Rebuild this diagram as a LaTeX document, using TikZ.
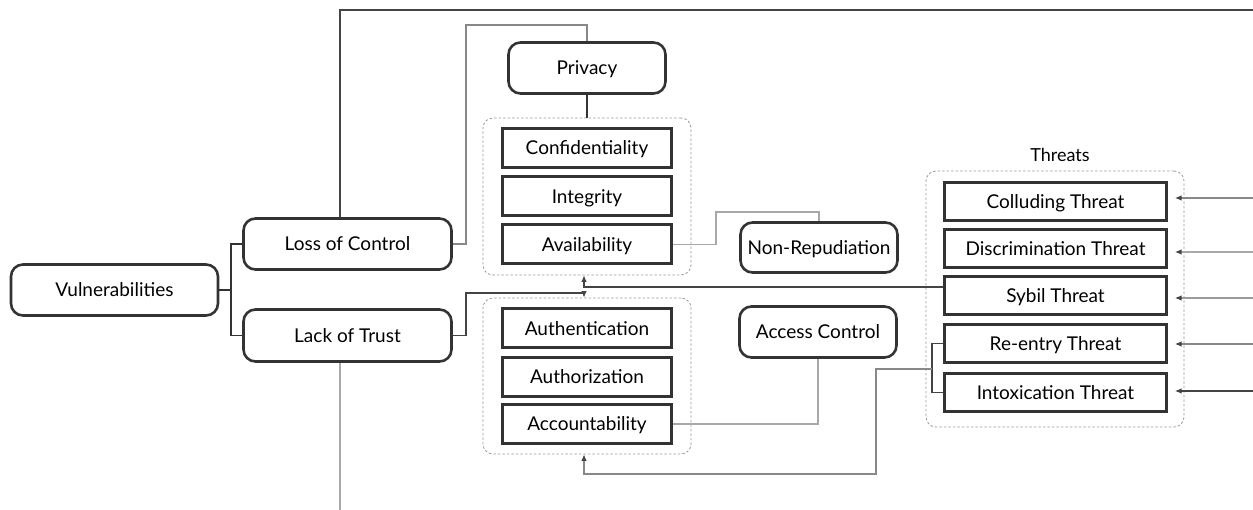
\documentclass[tikz,border=0pt]{standalone}
\usepackage{fontspec}
\setmainfont{Lato}
\usetikzlibrary{arrows.meta}
\definecolor{edge}{HTML}{333333}
\definecolor{wire}{HTML}{444444}
\definecolor{lightwire}{HTML}{A8A8A8}
\definecolor{midwire}{HTML}{888888}
\definecolor{groupline}{HTML}{9A9A9A}
\tikzset{
  label text/.style={font=\fontsize{19}{21}\selectfont, text height=13.6pt, text depth=0pt},
  roundbox/.style={label text, draw=edge, line width=2.6pt, rounded corners=12pt, fill=white,
    inner sep=0pt},
  itembox/.style={label text, draw=edge, line width=3pt, fill=white, minimum width=169pt,
    minimum height=39pt, inner sep=0pt},
  threatbox/.style={itembox, minimum width=222pt, minimum height=38pt},
  groupbox/.style={draw=groupline, line width=0.8pt, dash pattern=on 2.5pt off 2pt,
    rounded corners=10pt, inner sep=0pt},
  wirestyle/.style={line width=1.1pt},
  tip/.style={-{Latex[length=6.5pt,width=5.5pt,color=wire]}},
}
\begin{document}
\begin{tikzpicture}[x=1pt,y=-1pt]
\useasboundingbox (0,0) rectangle (1253,510);

% dashed groups
\node[groupbox, minimum width=208pt, minimum height=157pt] (g1) at (587,196.5) {};
\node[groupbox, minimum width=208pt, minimum height=156pt] (g2) at (587,376) {};
\node[groupbox, minimum width=258pt, minimum height=256pt] (g3) at (1055,299) {};
\node[font=\fontsize{18}{20}\selectfont, text height=13pt, text depth=0pt] (threats) at (1060,155) {Threats};

% rounded concept boxes
\node[roundbox, minimum width=207pt, minimum height=51pt] (vul) at (114.5,290) {Vulnerabilities};
\node[roundbox, minimum width=208pt, minimum height=51pt] (loc) at (347.5,244) {Loss of Control};
\node[roundbox, minimum width=208pt, minimum height=52pt] (lot) at (347.5,335.5) {Lack of Trust};
\node[roundbox, minimum width=157pt, minimum height=51pt] (priv) at (587,68) {Privacy};
\node[roundbox, minimum width=157pt, minimum height=50pt] (nonrep) at (819,247.5) {Non-Repudiation};
\node[roundbox, minimum width=157pt, minimum height=51pt] (acc) at (818,332) {Access Control};

% security properties
\node[itembox] (conf) at (587,148) {Confidentiality};
\node[itembox] (integ) at (587,196.5) {Integrity};
\node[itembox] (avail) at (587,244.5) {Availability};
\node[itembox] (authn) at (587,328.5) {Authentication};
\node[itembox] (authz) at (587,377) {Authorization};
\node[itembox] (accnt) at (587,424) {Accountability};

% threats
\node[threatbox] (coll) at (1055.5,201.5) {Colluding Threat};
\node[threatbox] (disc) at (1055.5,249) {Discrimination Threat};
\node[threatbox] (sybil) at (1055.5,295.5) {Sybil Threat};
\node[threatbox] (reentry) at (1055.5,343.5) {Re-entry Threat};
\node[threatbox] (intox) at (1055.5,392.5) {Intoxication Threat};

% free ends at the picture border
\coordinate (topend) at (1253,10);
\coordinate (bottomend) at (340,510);
\coordinate (r1) at (1253,198);
\coordinate (r2) at (1253,252);
\coordinate (r3) at (1253,298);
\coordinate (r4) at (1253,344);
\coordinate (r5) at (1253,391);

% tree from Vulnerabilities
\draw[edge, line width=1.6pt] (vul.east) -- (231,290) |- (loc.west);
\draw[edge, line width=1.6pt] (231,290) |- (lot.west);

% long lines leaving the picture
\draw[wire, wirestyle] (loc.north -| 340,0) -- (340,10) -- (topend);
\draw[lightwire, wirestyle] (lot.south -| 340,0) -- (bottomend);

% Loss of Control to Privacy
\draw[midwire, wirestyle] (loc.east) -- (466,244) -- (466,25) -| (priv.north);
\draw[edge, wirestyle] (priv.south) -- (g1.north);

% Availability to Non-Repudiation
\draw[lightwire, line width=1.4pt] (avail.east) -- (716,244.5) -- (716,212) -| (nonrep.north);

% Sybil Threat back to the first group
\draw[wire, wirestyle, tip] ([yshift=8.5pt]sybil.west) -- (584,287) -- (g1.south -| 584,0);

% Lack of Trust to the second group
\draw[wire, wirestyle, tip] (lot.east) -- (466,335.5) -- (466,293) -- (584,293) -- (g2.north -| 584,0);

% Accountability to Access Control
\draw[lightwire, line width=1.4pt] (accnt.east) -| (acc.south);

% Re-entry and Intoxication back to the second group
\draw[wire, wirestyle] (reentry.west) -- (932,343.5) -- (932,392.5) -- (intox.west);
\draw[midwire, wirestyle, tip] (932,369) -- (876,369) -- (876,474) -- (584,474) -- (g2.south -| 584,0);

% incoming arrows on the threats
\draw[midwire, wirestyle, tip] (r1) -- ([xshift=7pt]coll.east |- r1);
\draw[lightwire, wirestyle, tip] (r2) -- ([xshift=7pt]disc.east |- r2);
\draw[groupline, wirestyle, tip] (r3) -- ([xshift=7pt]sybil.east |- r3);
\draw[midwire, wirestyle, tip] (r4) -- ([xshift=7pt]reentry.east |- r4);
\draw[wire, wirestyle, tip] (r5) -- ([xshift=7pt]intox.east |- r5);
\end{tikzpicture}
\end{document}
